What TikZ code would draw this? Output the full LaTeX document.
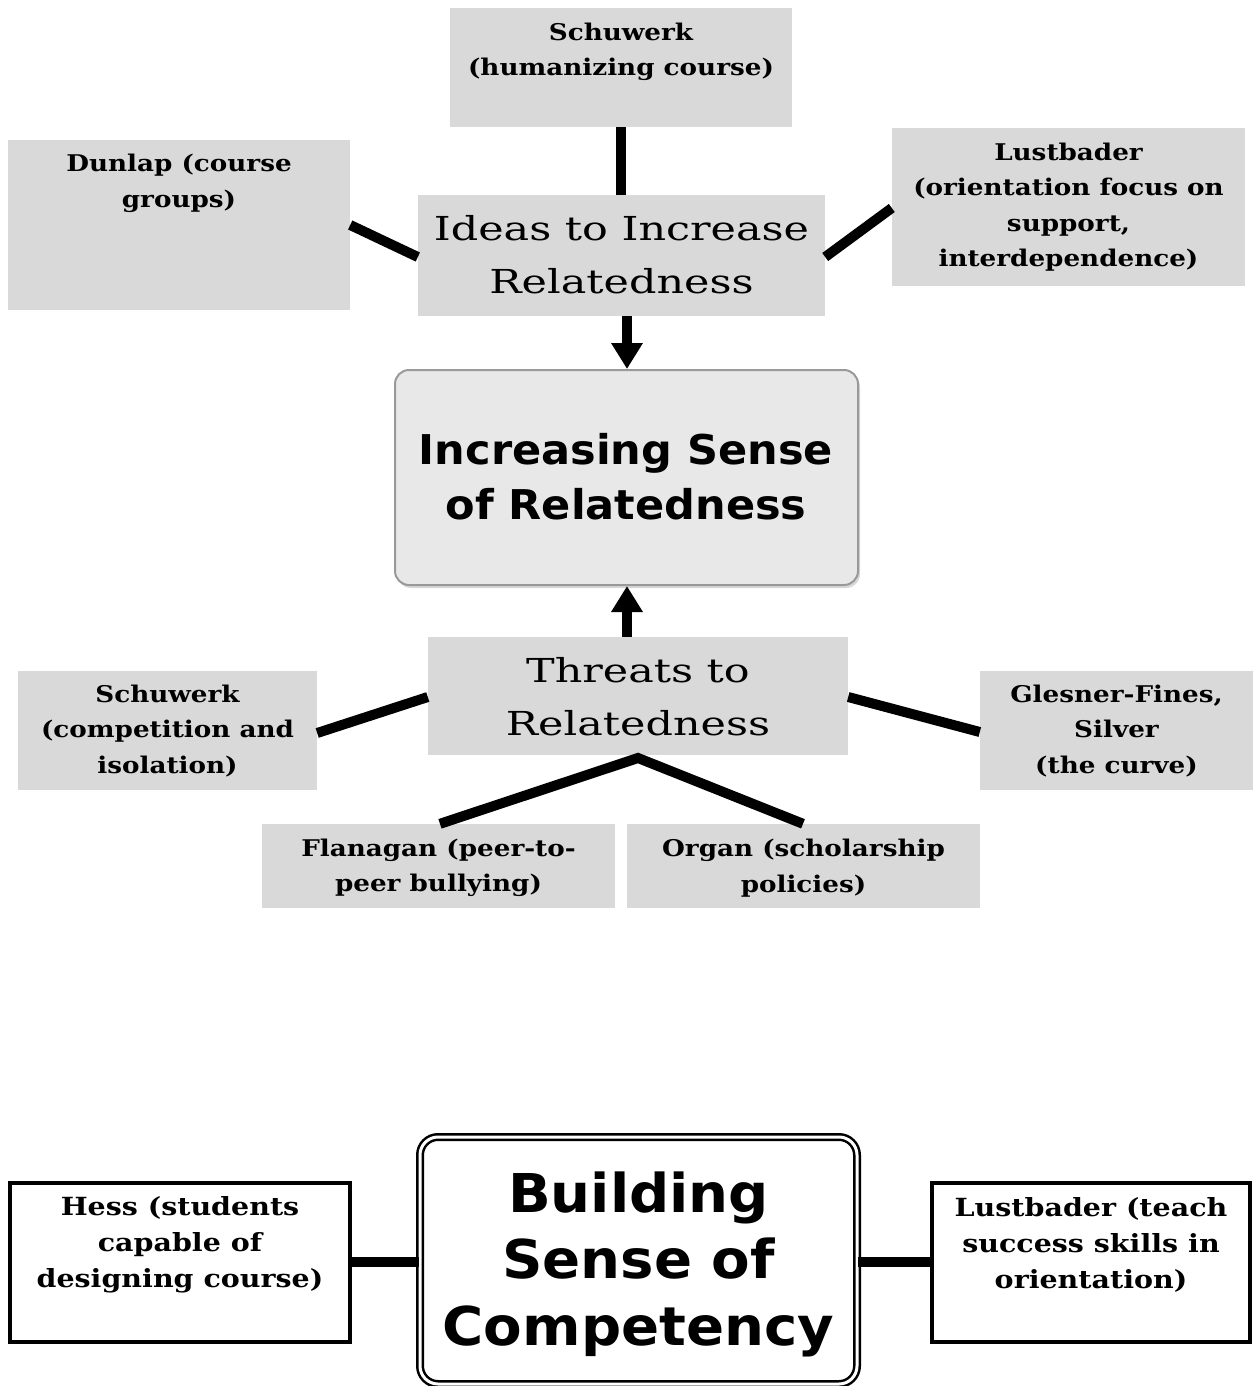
\documentclass[tikz,border=0pt]{standalone}
\usepackage{fontspec}
\setmainfont{DejaVu Serif}
\newfontfamily\boxfont[FakeStretch=1.14]{DejaVu Serif Bold}
\newfontfamily\midfont[FakeStretch=1.3]{DejaVu Serif}
\newfontfamily\headsans[FakeStretch=1.05]{DejaVu Sans Bold}
\usetikzlibrary{arrows.meta,shadows}
\definecolor{boxgray}{RGB}{217,217,217}
\definecolor{centgray}{RGB}{232,232,232}
\tikzset{
  gbox/.style={draw=none, fill=boxgray, inner sep=0pt},
  wbox/.style={draw=black, line width=3.5pt, fill=white, inner sep=0pt},
  smalltxt/.style={align=center, inner sep=0pt, font=\boxfont\fontsize{23}{35.5}\selectfont},
  bottxt/.style={align=center, inner sep=0pt, font=\boxfont\fontsize{25}{36}\selectfont},
  midtxt/.style={align=center, inner sep=0pt, font=\midfont\fontsize{33}{53}\selectfont},
  conn/.style={line width=10pt},
  arr/.style={line width=10pt, -{Triangle[length=26pt,width=30pt]}},
}
\begin{document}
\begin{tikzpicture}[x=1pt,y=-1pt]
\useasboundingbox (0,0) rectangle (1253,1386);
% top group
\node[gbox, minimum width=342, minimum height=119] (schtop) at (621,67.5) {};
\node[smalltxt] (schtopt) at (621,52) {Schuwerk\\(humanizing course)};
\node[gbox, minimum width=342, minimum height=170] (dun) at (179,225) {};
\node[smalltxt] (dunt) at (179,183.5) {Dunlap (course\\groups)};
\node[gbox, minimum width=407, minimum height=121] (ideas) at (621.5,255.5) {};
\node[midtxt] (ideast) at (621.5,254.5) {Ideas to Increase\\Relatedness};
\node[gbox, minimum width=353, minimum height=158] (lusttop) at (1068.5,207) {};
\node[smalltxt] (lusttopt) at (1068.5,207) {Lustbader\\(orientation focus on\\support,\\interdependence)};
% central
\node[draw=gray!80, line width=2pt, rounded corners=14pt, fill=centgray, minimum width=463, minimum height=215, inner sep=0pt,
      drop shadow={shadow xshift=2pt, shadow yshift=-3pt, fill=gray!60}] (cent) at (626.5,477.5) {};
\node[align=center, inner sep=0pt, font=\headsans\fontsize{41}{55}\selectfont] (centt) at (626,476.5) {Increasing Sense\\of Relatedness};
% threats group
\node[gbox, minimum width=420, minimum height=118] (thr) at (638,696) {};
\node[midtxt] (thrt) at (638,697) {Threats to\\Relatedness};
\node[gbox, minimum width=299, minimum height=119] (schbot) at (167.5,730.5) {};
\node[smalltxt] (schbott) at (167.5,731) {Schuwerk\\(competition and\\isolation)};
\node[gbox, minimum width=273, minimum height=119] (gles) at (1116.5,730.5) {};
\node[smalltxt] (glest) at (1116.5,731) {Glesner-Fines,\\Silver\\(the curve)};
\node[gbox, minimum width=353, minimum height=84] (flan) at (438.5,866) {};
\node[smalltxt] (flant) at (438.5,868) {Flanagan (peer-to-\\peer bullying)};
\node[gbox, minimum width=353, minimum height=84] (org) at (803.5,866) {};
\node[smalltxt] (orgt) at (803.5,868) {Organ (scholarship\\policies)};
\coordinate (apex) at (638,758);
% connectors
\draw[conn] (schtop.south) -- (ideas.north -| schtop.south);
\draw[conn] (dun.east |- 0,225) -- (ideas.west |- 0,257);
\draw[conn] (lusttop.west |- 0,208) -- (ideas.east |- 0,257);
\draw[arr] (ideas.south -| 627,0) -- (cent.north -| 627,0);
\draw[arr] (thr.north -| 627,0) -- (cent.south -| 627,0);
\draw[conn] (schbot.east |- 0,733) -- (thr.west |- 0,697);
\draw[conn] (gles.west |- 0,732) -- (thr.east |- 0,697);
\draw[conn, line join=miter] (flan.north -| 440,0) -- (apex) -- (org.north -| 803,0);
% bottom group
\node[wbox, minimum width=340, minimum height=159] (hess) at (180,1262.5) {};
\node[bottxt] (hesst) at (180,1245) {Hess (students\\capable of\\designing course)};
\node[wbox, minimum width=318, minimum height=159] (lustbot) at (1091,1262.5) {};
\node[bottxt] (lustbott) at (1091,1245) {Lustbader (teach\\success skills in\\orientation)};
\node[draw=black, line width=2.5pt, double=white, double distance=3pt, rounded corners=18pt, fill=white,
      minimum width=437, minimum height=247, inner sep=0pt] (build) at (638.5,1260.5) {};
\node[align=center, inner sep=0pt, font=\headsans\fontsize{53.5}{66.5}\selectfont] (buildt) at (638.5,1264) {Building\\Sense of\\Competency};
\draw[conn] (hess.east |- 0,1262) -- (build.west |- 0,1262);
\draw[conn] (lustbot.west |- 0,1262) -- (build.east |- 0,1262);
\end{tikzpicture}
\end{document}
